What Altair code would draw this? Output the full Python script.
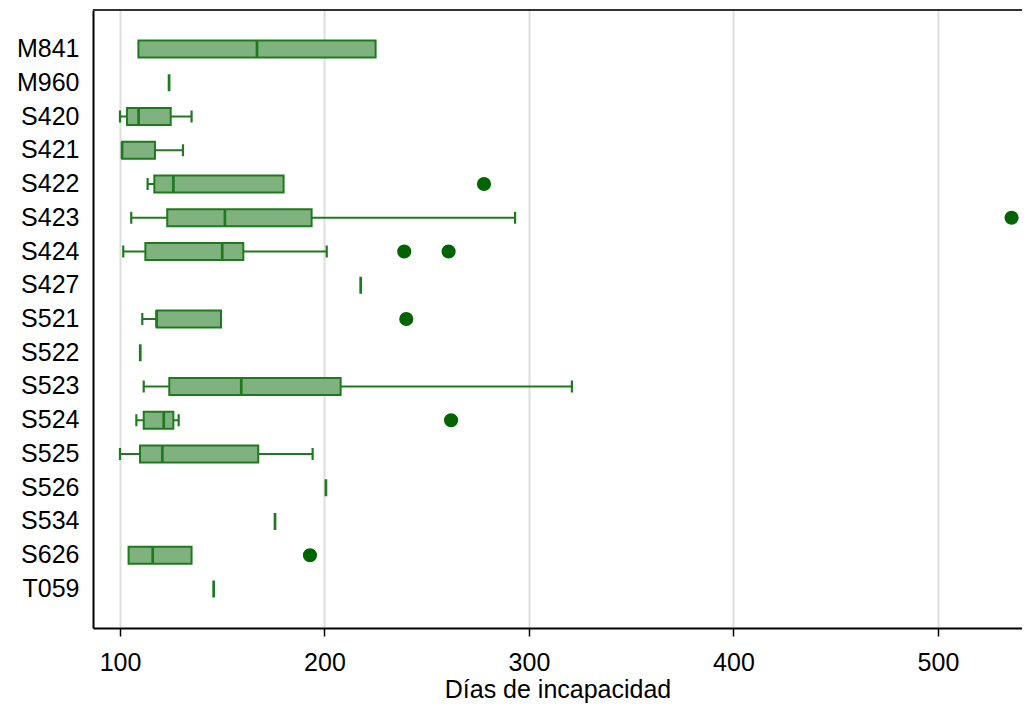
import altair as alt
import pandas as pd

cats = ["M841", "M960", "S420", "S421", "S422", "S423", "S424", "S427", "S521",
        "S522", "S523", "S524", "S525", "S526", "S534", "S626", "T059"]
mins = [109, 124, 100, 101, 113.5, 105.5, 101.6, 217.7, 110.9, 109.9, 111.6, 108, 100, 200.7, 175.8, 104.2, 145.8]
q1s = [109, 124, 103.4, 101, 116.8, 123.1, 112.4, 217.7, 117.9, 109.9, 124.1, 111.6, 109.8, 200.7, 175.8, 104.2, 145.8]
meds = [167, 124, 109.1, 101, 126.1, 151.3, 150, 217.7, 117.9, 109.9, 159.3, 121.4, 120.7, 200.7, 175.8, 116, 145.8]
q3s = [225, 124, 124.8, 117.1, 180, 193.7, 160.3, 217.7, 149.4, 109.9, 207.9, 126.1, 167.6, 200.7, 175.8, 135, 145.8]
maxs = [225, 124, 135, 130.8, 180, 293.2, 201.1, 217.7, 149.4, 109.9, 321, 128.7, 194.2, 200.7, 175.8, 135, 145.8]

out_cats = ["S422", "S423", "S424", "S424", "S521", "S524", "S626"]
out_vals = [278, 536, 239, 260.7, 240, 261.9, 192.9]

xticks = [100, 200, 300, 400, 500]

df = pd.DataFrame({"cat": cats, "lo": mins, "q1": q1s, "med": meds, "q3": q3s, "hi": maxs})
dout = pd.DataFrame({"cat": out_cats, "v": out_vals})

W, H = 929, 618
FONT = "Liberation Sans"
FILL = "#80b280"
STROKE = "#1f7a1f"
DOT = "#006400"

xscale = alt.Scale(domain=[86.8, 541.1], nice=False, zero=False)
yscale = alt.Scale(domain=cats, paddingInner=0, paddingOuter=0.656)

xaxis = alt.Axis(values=xticks, title="Días de incapacidad", grid=True, gridColor="#dedede", gridWidth=2,
                 domainColor="black", domainWidth=2, tickColor="black", tickSize=8, tickWidth=1.5,
                 labelFont=FONT, labelFontSize=25, labelColor="black", labelPadding=14,
                 titleFont=FONT, titleFontSize=25, titleFontWeight="normal", titleColor="black", titlePadding=2)
yaxis = alt.Axis(title=None, ticks=False, domainColor="black", domainWidth=2, grid=False,
                 labelFont=FONT, labelFontSize=25, labelColor="black", labelPadding=14)

Y = alt.Y("cat:N", scale=yscale, axis=yaxis, sort=cats)

def X(field):
    return alt.X(f"{field}:Q", scale=xscale, axis=xaxis)

base = alt.Chart(df)

wlo = base.transform_filter("datum.lo < datum.q1").mark_rule(color=STROKE, strokeWidth=2).encode(x=X("lo"), x2="q1", y=Y)
whi = base.transform_filter("datum.hi > datum.q3").mark_rule(color=STROKE, strokeWidth=2).encode(x=X("q3"), x2="hi", y=Y)
caplo = base.transform_filter("datum.lo < datum.q1").mark_tick(color=STROKE, size=12, thickness=2.2, opacity=1).encode(x=X("lo"), y=Y)
caphi = base.transform_filter("datum.hi > datum.q3").mark_tick(color=STROKE, size=12, thickness=2.2, opacity=1).encode(x=X("hi"), y=Y)
box = base.transform_filter("datum.q3 > datum.q1").mark_bar(size=17, fill=FILL, stroke=STROKE, strokeWidth=2).encode(x=X("q1"), x2="q3", y=Y)
med = base.mark_tick(color=STROKE, size=17, thickness=2.7, opacity=1).encode(x=X("med"), y=Y)
outl = alt.Chart(dout).mark_circle(color=DOT, size=200, opacity=1).encode(x=alt.X("v:Q", scale=xscale, axis=xaxis), y=Y)
top = base.mark_rule(color="#333333", strokeWidth=2).encode(x=alt.value(0), x2=alt.value(W), y=alt.value(0))

chart = alt.layer(wlo, whi, caplo, caphi, box, med, outl, top).properties(
    width=W, height=H,
    autosize=alt.AutoSizeParams(type="none"),
    padding={"left": 85, "top": 2, "right": 0, "bottom": 79},
).configure_view(stroke=None)

chart.save("out.html", embed_options={"renderer": "svg", "actions": False})
